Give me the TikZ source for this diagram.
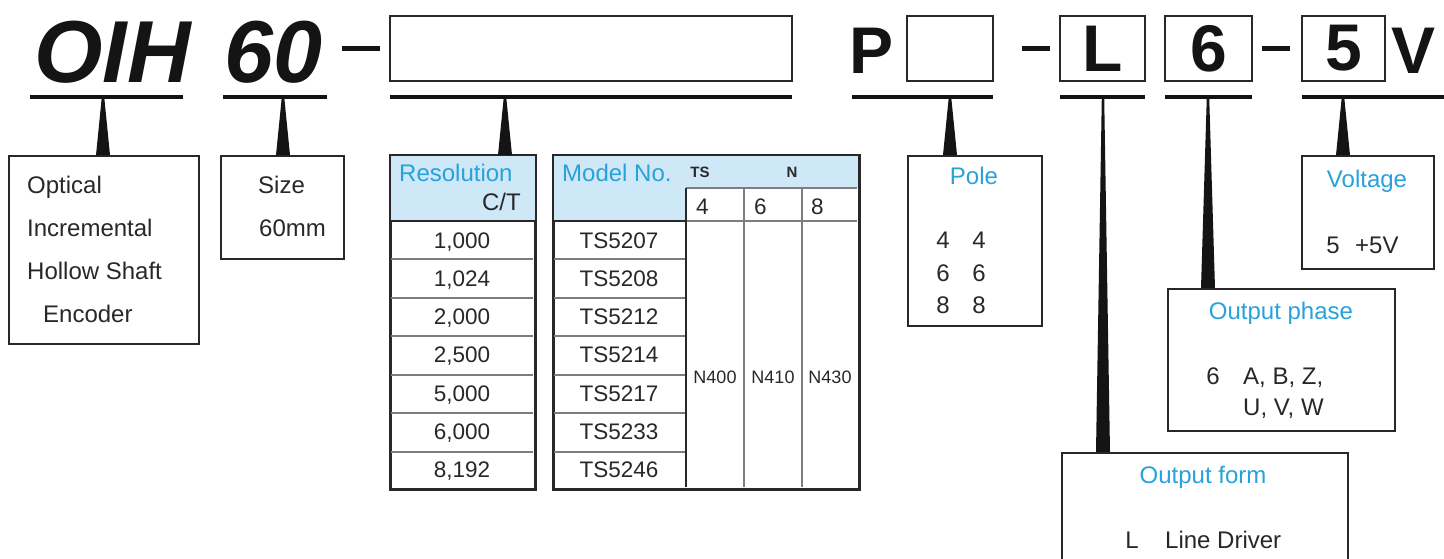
\documentclass[tikz,border=0pt]{standalone}
\usepackage{fontspec}
\setmainfont{Liberation Sans}
\usetikzlibrary{calc}
\definecolor{hdrblue}{RGB}{206,232,247}
\definecolor{txtblue}{RGB}{40,162,218}
\definecolor{ink}{RGB}{40,40,40}
\definecolor{deep}{RGB}{20,20,20}
\definecolor{gridgray}{RGB}{125,125,125}
\newcommand{\wedgeptr}[2]{%
  \fill[deep] ($(#1)+(-1.2,0)$) -- ($(#1)+(1.2,0)$) -- ($(#2.north -| #1)+(7,0)$) -- ($(#2.north -| #1)+(-7,0)$) -- cycle;}
\begin{document}
\begin{tikzpicture}[x=1pt,y=-1pt,
  bigit/.style={font=\fontsize{88}{90}\selectfont\bfseries\itshape, text=deep, inner sep=0},
  bigup/.style={font=\fontsize{66}{68}\selectfont\bfseries, text=deep, inner sep=0},
  topbox/.style={draw=ink, line width=2, inner sep=0, minimum height=65, bigup},
  uline/.style={draw=deep, line width=4},
  dashline/.style={draw=deep, line width=5},
  box/.style={draw=ink, line width=2, inner sep=0, anchor=north west},
  txt/.style={font=\fontsize{24}{28}\selectfont, text=ink, inner sep=0},
  ttl/.style={font=\fontsize{24}{28}\selectfont, text=txtblue, inner sep=0},
  cell/.style={font=\fontsize{22.5}{26}\selectfont, text=ink, inner sep=0},
  small/.style={font=\fontsize{18}{20}\selectfont, text=ink, inner sep=0},
  tiny/.style={font=\fontsize{15}{17}\selectfont\bfseries, text=ink, inner sep=0},
  outer/.style={draw=ink, line width=2.5},
  thin/.style={draw=gridgray, line width=1.3}]
\useasboundingbox (0,0) rectangle (1444,558);
\clip (0,0) rectangle (1444,558);
\fill[white] (0,0) rectangle (1444,558);

% ---------- top code line ----------
\node[bigit, anchor=base west] (tOIH) at (34,82) {OIH};
\node[bigit, anchor=base west] (t60) at (224,82) {60};
\coordinate (d1a) at (342,48); \coordinate (d1b) at (380,48);
\draw[dashline] (d1a) -- (d1b);
\node[topbox, minimum width=402] (bRes) at (591,48.5) {};
\node[bigup, anchor=base west] (tP) at (849,73) {P};
\node[topbox, minimum width=86] (bP) at (950,48.5) {};
\coordinate (d2a) at (1022,48); \coordinate (d2b) at (1050,48);
\draw[dashline] (d2a) -- (d2b);
\node[topbox, minimum width=85] (bL) at (1102.5,48.5) {L};
\node[topbox, minimum width=87] (b6) at (1208.5,48.5) {6};
\coordinate (d3a) at (1262,48); \coordinate (d3b) at (1290,48);
\draw[dashline] (d3a) -- (d3b);
\node[topbox, minimum width=83] (b5) at (1343.5,48.5) {5};
\node[bigup, anchor=base west] (tV) at (1391,73) {V};

% underlines
\coordinate (u1a) at (30,97);   \coordinate (u1b) at (183,97);
\coordinate (u2a) at (223,97);  \coordinate (u2b) at (327,97);
\coordinate (u3a) at (390,97);  \coordinate (u3b) at (792,97);
\coordinate (u4a) at (852,97);  \coordinate (u4b) at (993,97);
\coordinate (u5a) at (1060,97); \coordinate (u5b) at (1145,97);
\coordinate (u6a) at (1165,97); \coordinate (u6b) at (1252,97);
\coordinate (u7a) at (1302,97); \coordinate (u7b) at (1444,97);
\foreach \i in {1,...,7} {\draw[uline] (u\i a) -- (u\i b);}

% ---------- boxes ----------
\node[box, minimum width=190, minimum height=188] (bOpt) at (8,155) {};
\node[txt, anchor=base west] (o1) at (27,193) {Optical};
\node[txt, anchor=base west] (o2) at (27,236) {Incremental};
\node[txt, anchor=base west] (o3) at (27,279) {Hollow Shaft};
\node[txt, anchor=base west] (o4) at (43,322) {Encoder};

\node[box, minimum width=123, minimum height=103] (bSize) at (220,155) {};
\node[txt, anchor=base west] (s1) at (258,193) {Size};
\node[txt, anchor=base west] (s2) at (259,236) {60mm};

% resolution table
\node[box, minimum width=144, minimum height=333] (tRes) at (390,155) {};
\fill[hdrblue] (tRes.north west) rectangle ($(tRes.north east)+(0,66)$);
\foreach \y in {259,298,336,375,413,452} {\draw[thin] (391,\y) -- (533,\y);}
\draw[outer] ($(tRes.north west)+(0,66)$) -- ($(tRes.north east)+(0,66)$);
\draw[outer] (tRes.north west) rectangle (tRes.south east);
\node[ttl, anchor=base west] (rh1) at (399,181) {Resolution};
\node[txt, anchor=base east] (rh2) at (521,210) {C/T};

% model table
\node[box, minimum width=305, minimum height=333] (tMod) at (553,155) {};
\fill[hdrblue] (553,155) rectangle (686,221);
\fill[hdrblue] (686,155) rectangle (858,188);
\foreach \y in {259,298,336,375,413,452} {\draw[thin] (554,\y) -- (686,\y);}
\draw[thin] (686,188) -- (857,188);
\draw[thin] (686,221) -- (857,221);
\draw[thin] (744,188) -- (744,487);
\draw[thin] (802,188) -- (802,487);
\draw[draw=ink, line width=1.6] (686,188) -- (686,487);
\draw[outer] (553,221) -- (686,221);
\draw[outer] (tMod.north west) rectangle (tMod.south east);
\node[ttl, anchor=base west] (mh1) at (562,181) {Model No.};
\node[tiny, anchor=base] (mhTS) at (700,177) {TS};
\node[tiny, anchor=base] (mhN) at (792,177) {N};
\node[cell, anchor=base west] (c4) at (696,214) {4};
\node[cell, anchor=base west] (c6) at (754,214) {6};
\node[cell, anchor=base west] (c8) at (811,214) {8};
\node[small, anchor=base] (n1) at (715,383) {N400};
\node[small, anchor=base] (n2) at (773,383) {N410};
\node[small, anchor=base] (n3) at (830,383) {N430};

\foreach \r/\m [count=\k from 0] in {1{,}000/TS5207,1{,}024/TS5208,2{,}000/TS5212,2{,}500/TS5214,5{,}000/TS5217,6{,}000/TS5233,8{,}192/TS5246} {
  \pgfmathsetmacro{\yy}{221+38.14*\k+19.07+8.5}
  \node[cell, anchor=base] (r\k) at (462,\yy) {\r};
  \node[cell, anchor=base] (m\k) at (619,\yy) {\m};
}

% pole
\node[box, minimum width=134, minimum height=170] (bPole) at (907,155) {};
\node[ttl, anchor=base] (pl) at (974,184) {Pole};
\foreach \v/\yy in {4/248,6/281,8/313} {
  \node[txt, anchor=base] (pa\v) at (943,\yy) {\v};
  \node[txt, anchor=base] (pb\v) at (979,\yy) {\v};
}

% voltage
\node[box, minimum width=132, minimum height=113] (bVolt) at (1301,155) {};
\node[ttl, anchor=base] (vl) at (1367,187) {Voltage};
\node[txt, anchor=base] (v1) at (1333,253) {5};
\node[txt, anchor=base west] (v2) at (1355,253) {+5V};

% output phase
\node[box, minimum width=227, minimum height=142] (bPhase) at (1167,288) {};
\node[ttl, anchor=base] (phl) at (1281,319) {Output phase};
\node[txt, anchor=base] (ph1) at (1213,384) {6};
\node[txt, anchor=base west] (ph2) at (1243,384) {A, B, Z,};
\node[txt, anchor=base west] (ph3) at (1243,415) {U, V, W};

% output form
\node[box, minimum width=286, minimum height=140] (bForm) at (1061,452) {};
\node[ttl, anchor=base] (fl) at (1203,483) {Output form};
\node[txt, anchor=base] (f1) at (1132,548) {L};
\node[txt, anchor=base west] (f2) at (1165,548) {Line Driver};

% ---------- pointers ----------
\coordinate (p1) at (103,97);  \wedgeptr{p1}{bOpt}
\coordinate (p2) at (283,97);  \wedgeptr{p2}{bSize}
\coordinate (p3) at (505,97);  \wedgeptr{p3}{tRes}
\coordinate (p4) at (950,97);  \wedgeptr{p4}{bPole}
\coordinate (p5) at (1103,97); \wedgeptr{p5}{bForm}
\coordinate (p6) at (1208,97); \wedgeptr{p6}{bPhase}
\coordinate (p7) at (1343,97); \wedgeptr{p7}{bVolt}
\end{tikzpicture}
\end{document}
